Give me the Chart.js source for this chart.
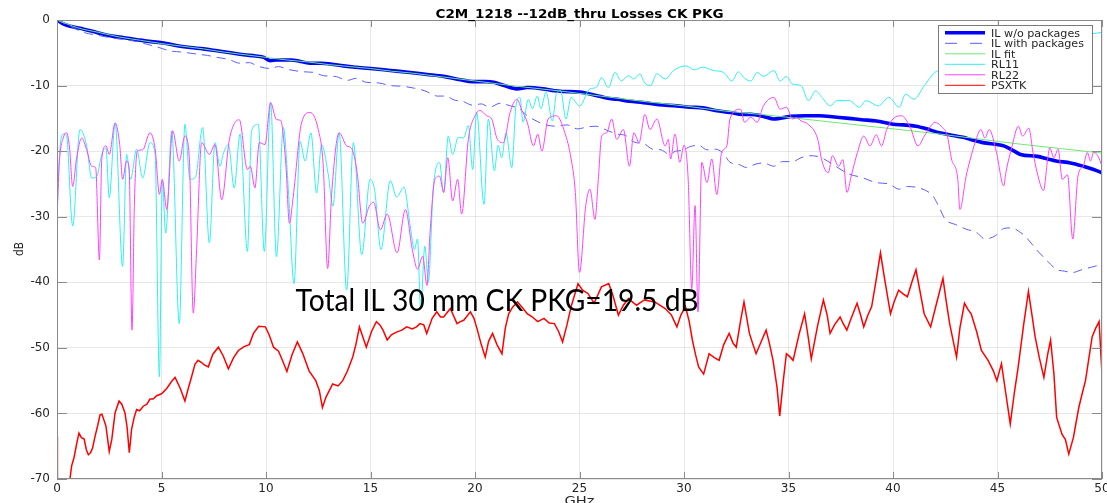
<!DOCTYPE html>
<html>
<head>
<meta charset="utf-8">
<script src="https://cdn.jsdelivr.net/npm/chart.js@4.4.1/dist/chart.umd.min.js"></script>
<style>
  html, body { margin: 0; padding: 0; background: #fff; }
  #c { display: block; }
</style>
</head>
<body>
<canvas id="c" width="1107" height="503"></canvas>
<script>
// ---- Frequency axis / dB axis ----
const xTicks = [0, 5, 10, 15, 20, 25, 30, 35, 40, 45, 50];
const yTicks = [-70, -60, -50, -40, -30, -20, -10, 0];

// ---- IL w/o packages ----
const ilFreq = [0,0.3,0.7,1.28,1.9,2.55,3.2,3.83,4.5,5.1,5.7,6.38,7.0,7.66,8.3,8.93,9.5,9.9,10.2,10.5,10.85,11.2,11.5,12.1,12.6,13.1,13.7,14.3,15.0,15.95,16.9,17.7,18.5,19.3,19.9,20.5,20.9,21.4,22.0,22.5,23.25,23.8,24.2,25.0,25.8,26.3,26.8,27.4,28.05,28.8,29.65,30.3,30.9,31.5,32.2,32.8,33.2,33.8,34.3,35.1,35.8,36.5,37.2,37.9,38.5,39.2,40.0,40.5,41.1,41.6,42.1,42.7,43.35,43.8,44.3,45.3,45.8,46.1,46.9,47.4,47.8,48.5,49.1,49.6,50];
const ilVals = [0,-0.6,-1.0,-1.4,-1.9,-2.4,-2.7,-3.0,-3.3,-3.5,-3.9,-4.2,-4.4,-4.7,-5.0,-5.3,-5.5,-5.7,-6.2,-6.1,-6.1,-6.1,-6.2,-6.6,-6.6,-6.7,-7.0,-7.2,-7.4,-7.7,-8.0,-8.3,-8.6,-9.1,-9.4,-9.4,-9.5,-10.0,-10.5,-10.3,-10.5,-10.8,-10.9,-11.0,-11.5,-11.9,-12.1,-12.4,-12.6,-12.9,-13.1,-13.3,-13.4,-13.8,-14.1,-14.4,-14.4,-14.7,-15.1,-14.7,-14.6,-14.6,-14.8,-15.0,-15.2,-15.4,-15.9,-16.0,-16.2,-16.6,-17.1,-17.5,-17.9,-18.3,-18.7,-19.2,-20.0,-20.5,-20.8,-21.2,-21.5,-21.8,-22.3,-22.8,-23.3];

// ---- IL with packages ----
const ilPkgFreq = [0,0.6,1.28,1.9,2.55,3.2,3.83,4.3,4.78,5.4,6.0,6.7,7.2,7.65,8.2,8.77,9.2,9.57,10.2,10.6,11.0,11.8,12.3,12.76,13.3,13.9,14.3,14.8,15.4,15.95,16.5,17.1,17.6,18.2,18.6,19.0,19.4,19.9,20.3,20.7,21.2,21.7,22.1,22.5,23.0,23.4,23.9,24.4,24.9,25.4,25.8,26.3,26.8,27.2,27.6,28.1,28.5,28.9,29.3,29.6,29.9,30.3,30.7,31.1,31.5,31.9,32.2,32.6,33.0,33.4,33.8,34.3,34.7,35.2,35.6,36.0,36.4,36.7,37.2,37.9,38.5,39.2,39.8,40.3,40.7,41.1,41.5,41.9,42.2,42.5,43.0,43.5,44.0,44.4,44.9,45.3,45.7,46.0,46.3,46.6,47.0,47.4,47.8,48.2,48.6,49.1,49.5,49.9,50];
const ilPkgVals = [0,-0.9,-1.9,-2.3,-2.7,-3.0,-3.3,-3.7,-4.1,-4.7,-4.9,-5.2,-5.4,-5.7,-6.0,-6.6,-6.5,-7.0,-7.4,-7.1,-7.5,-7.9,-8.0,-8.5,-8.6,-9.2,-8.9,-9.5,-9.6,-10.0,-10.1,-10.4,-10.8,-11.6,-11.6,-12.2,-12.4,-13.0,-12.8,-13.3,-12.7,-13.1,-13.5,-14.6,-15.5,-16.0,-16.2,-16.0,-16.6,-16.3,-16.2,-16.8,-17.4,-17.6,-18.6,-18.9,-19.7,-19.8,-20.5,-20.0,-19.9,-19.3,-19.1,-19.8,-19.7,-20.4,-21.7,-22.0,-22.5,-22.0,-21.8,-22.3,-21.6,-21.6,-21.0,-20.7,-20.8,-21.2,-22.2,-23.5,-24.0,-24.8,-25.0,-25.8,-25.4,-25.5,-25.9,-26.8,-28.5,-30.4,-31.2,-31.9,-32.4,-33.4,-32.9,-31.8,-31.7,-32.2,-32.9,-34.0,-35.5,-36.8,-38.0,-38.3,-38.5,-38.0,-37.7,-37.4,-37.4];

// ---- IL fit ----
const fitFreq = [0,1,2,3,4,5,6,7,8,9,10,11,12,13,14,15,16,17,18,19,20,22,24,26,28,30,32,34,36,38,40,42,44,46,48,50];
const fitVals = [0,-1.2,-1.9,-2.6,-3.1,-3.6,-4.0,-4.4,-4.9,-5.3,-5.7,-6.1,-6.4,-6.8,-7.1,-7.4,-7.8,-8.1,-8.5,-8.9,-9.3,-10.1,-10.8,-11.6,-12.4,-13.1,-13.9,-14.5,-15.2,-15.9,-16.6,-17.3,-18.1,-18.9,-19.6,-20.3];

// ---- RL11 ----
const rl11Freq = [0,0.14,0.3,0.45,0.75,1.1,1.42,1.66,1.9,2.14,2.34,2.5,2.78,3.14,3.33,3.52,3.81,4.1,4.45,4.69,4.9,5.04,5.2,5.49,5.85,6.12,6.36,6.62,6.97,7.29,7.56,7.8,7.95,8.2,8.48,8.76,9.11,9.31,9.63,9.92,10.22,10.5,10.83,11.07,11.34,11.63,11.87,12.15,12.42,12.66,12.98,13.2,13.5,13.86,14.18,14.58,14.98,15.2,15.5,15.95,16.25,16.6,16.9,17.1,17.25,17.4,17.6,17.77,18.0,18.3,18.5,18.72,18.93,19.2,19.45,19.68,19.89,20.08,20.43,20.64,20.93,21.1,21.28,21.48,21.76,21.96,22.15,22.3,22.55,22.75,22.98,23.15,23.4,23.7,23.9,24.1,24.35,24.6,25.0,25.5,25.8,26.06,26.38,26.7,27.0,27.34,27.6,27.9,28.1,28.4,28.7,29.1,29.5,30.1,30.5,30.9,31.4,31.9,32.3,32.6,32.9,33.2,33.5,33.8,34.3,34.6,34.9,35.2,35.6,35.95,36.3,36.6,37.0,37.3,37.9,38.4,38.7,39.3,39.8,40.3,40.6,41.0,41.5,42.0,42.3,43,44,45,46,47,48,49,50];
const rl11Vals = [-29.5,-19.7,-17.4,-17.6,-31.4,-16.7,-19.2,-24.1,-23.9,-20.5,-19.5,-27.1,-15.7,-37.6,-20.5,-24.3,-19.7,-24.1,-18.7,-20.3,-54.4,-24.6,-32.5,-16.9,-46.3,-15.9,-24.3,-24.0,-16.4,-34.0,-18.7,-22.3,-20.5,-19.0,-25.6,-17.4,-35.3,-16.9,-15.9,-35.3,-12.6,-36.1,-16.4,-25.9,-40.2,-18.5,-21.5,-17.2,-26.4,-19.0,-23.6,-28.4,-17.2,-41.2,-18.7,-35.8,-24.3,-26.0,-35.0,-24.5,-27.0,-25.5,-31.4,-35.0,-33.4,-44.0,-34.5,-40.0,-25.8,-21.7,-26.3,-17.7,-20.5,-17.9,-18.0,-16.1,-22.8,-14.1,-28.1,-15.1,-23.0,-19.1,-21.0,-17.2,-22.5,-13.1,-11.8,-15.6,-12.1,-13.5,-11.6,-13.5,-11.0,-15.4,-11.2,-10.8,-15.1,-11.8,-13.1,-10.5,-10.3,-8.8,-10.3,-8.0,-9.3,-8.5,-9.0,-8.2,-9.5,-10.0,-8.2,-9.0,-7.7,-7.0,-7.6,-7.2,-7.7,-8.0,-9.3,-7.9,-8.9,-9.3,-8.0,-8.6,-7.7,-9.3,-8.6,-9.8,-10.0,-12.3,-10.8,-11.8,-13.1,-12.3,-12.3,-13.3,-12.3,-13.1,-11.8,-13.3,-11.3,-12.1,-10.0,-8.0,-7.6,-6.5,-5.5,-4.5,-3.8,-3.2,-2.7,-2.3,-1.9];

// ---- RL22 ----
const rl22Freq = [0,0.1,0.33,0.46,0.6,0.75,0.94,1.18,1.42,1.66,1.85,2.03,2.14,2.34,2.5,2.78,3.0,3.14,3.33,3.45,3.59,3.7,3.84,4.1,4.45,4.7,4.9,5.04,5.25,5.53,5.85,6.12,6.33,6.52,6.68,6.92,7.29,7.56,7.88,8.25,8.72,9.11,9.25,9.47,9.68,9.95,10.22,10.5,10.7,10.95,11.12,11.3,11.7,12.1,12.5,12.74,12.95,13.14,13.5,13.86,14.1,14.35,14.63,14.94,15.15,15.47,15.8,16.27,16.67,17.0,17.25,17.5,17.7,17.85,18.08,18.3,18.5,18.7,18.93,19.17,19.36,19.68,20.0,20.24,20.55,20.8,21.07,21.36,21.68,22.0,22.25,22.5,22.8,23.0,23.2,23.5,23.9,24.3,24.6,24.8,25.0,25.3,25.5,25.74,25.9,26.06,26.3,26.54,26.78,27.1,27.39,27.6,27.85,28.13,28.37,28.7,29.1,29.25,29.36,29.57,29.8,30.0,30.2,30.37,30.53,30.67,30.85,31.1,31.33,31.57,31.8,32.05,32.2,32.7,32.9,33.2,33.5,33.8,34.3,34.6,34.9,35.2,35.4,35.6,35.9,36.4,36.6,36.9,37.1,37.4,37.6,37.8,38.0,38.3,38.6,38.9,39.2,39.45,39.7,40.0,40.4,40.8,41.2,41.5,41.8,42.0,42.3,42.6,42.8,43.1,43.2,43.5,43.7,43.95,44.2,44.4,44.6,44.95,45.3,45.4,45.7,46.0,46.2,46.5,46.7,46.9,47.2,47.4,47.5,47.7,47.9,48.1,48.35,48.6,48.85,49.1,49.3,49.45,49.6,49.8,50];
const rl22Vals = [-30.5,-22.3,-17.7,-17.2,-19.5,-25.4,-21.0,-18.0,-19.8,-22.3,-22.5,-36.6,-21.3,-19.2,-20.5,-15.7,-19.0,-24.3,-21.5,-22.5,-47.3,-28.4,-20.0,-19.8,-17.2,-19.8,-26.6,-24.3,-28.9,-16.9,-21.5,-17.7,-21.0,-44.7,-35.0,-18.7,-20.5,-19.0,-27.4,-18.2,-15.2,-22.8,-22.3,-25.6,-18.7,-19.0,-12.6,-15.2,-15.3,-22.0,-31.0,-27.0,-15.7,-14.1,-16.7,-22.3,-37.9,-26.6,-17.2,-19.2,-19.6,-23.0,-31.0,-28.4,-27.8,-32.0,-29.6,-35.5,-28.9,-35.0,-38.0,-36.0,-40.5,-32.4,-24.3,-23.8,-26.3,-21.0,-27.6,-24.3,-29.6,-18.2,-14.6,-13.8,-14.6,-15.1,-18.2,-18.7,-14.1,-12.1,-13.8,-15.6,-19.2,-17.4,-20.0,-15.1,-14.6,-17.2,-21.2,-26.3,-38.5,-28.3,-25.8,-30.4,-24.3,-17.7,-17.2,-15.1,-18.2,-16.7,-22.3,-17.2,-18.7,-14.4,-16.7,-15.1,-19.2,-18.2,-21.2,-17.4,-21.7,-19.1,-24.3,-41.0,-28.3,-44.5,-21.7,-24.8,-21.2,-26.6,-20.2,-19.2,-15.1,-13.6,-15.6,-14.8,-15.6,-13.1,-11.8,-13.6,-13.3,-15.1,-14.9,-15.4,-15.8,-18.2,-21.5,-23.3,-20.7,-22.3,-21.3,-26.3,-23.8,-20.2,-17.7,-19.2,-17.5,-19.2,-16.7,-15.1,-14.6,-16.2,-19.2,-17.7,-16.2,-15.6,-16.2,-17.7,-21.2,-24.3,-28.9,-23.8,-21.2,-18.5,-16.7,-18.0,-16.7,-20.2,-25.3,-23.3,-19.2,-16.2,-17.7,-16.5,-20.2,-23.3,-26.0,-21.2,-19.5,-21.0,-19.7,-24.3,-23.6,-33.4,-23.8,-22.3,-20.2,-21.5,-20.2,-20.7,-22.3];

// ---- PSXTK ----
const psxFreq = [0,0.02,0.6,0.62,0.7,0.81,0.95,1.05,1.17,1.3,1.4,1.5,1.6,1.7,1.82,1.95,2.06,2.15,2.34,2.5,2.62,2.78,2.97,3.1,3.25,3.35,3.46,3.57,3.7,3.81,3.95,4.13,4.3,4.45,4.6,4.77,5.0,5.25,5.49,5.65,5.9,6.12,6.28,6.44,6.6,6.75,6.9,7.05,7.24,7.45,7.72,7.95,8.2,8.45,8.68,8.95,9.2,9.4,9.65,9.97,10.15,10.36,10.6,10.8,11.0,11.25,11.5,11.75,12.06,12.38,12.55,12.7,12.87,13.19,13.45,13.67,13.9,14.15,14.3,14.47,14.65,14.8,15.05,15.28,15.45,15.6,15.8,16.0,16.24,16.5,16.73,17.0,17.2,17.37,17.55,17.69,17.95,18.17,18.35,18.5,18.82,19.14,19.3,19.46,19.78,19.95,20.1,20.3,20.49,20.65,20.84,21.05,21.29,21.45,21.61,21.8,22.03,22.25,22.5,22.75,23.0,23.3,23.55,23.8,24.0,24.19,24.4,24.6,24.93,25.15,25.4,25.7,26.05,26.4,26.6,26.86,27.1,27.34,27.73,28.1,28.6,29.1,29.4,29.66,29.85,30.07,30.25,30.4,30.55,30.7,30.94,31.2,31.45,31.68,31.9,32.16,32.35,32.5,32.7,32.87,33.13,33.3,33.45,33.7,33.93,34.1,34.26,34.45,34.58,34.75,34.9,35.05,35.22,35.5,35.77,35.95,36.09,36.4,36.67,36.85,36.99,37.2,37.47,37.6,37.79,38.0,38.28,38.45,38.6,38.8,38.98,39.2,39.4,39.6,39.88,40.05,40.27,40.5,40.69,40.9,41.1,41.3,41.49,41.8,42.1,42.39,42.55,42.71,43.04,43.2,43.42,43.6,43.74,44.0,44.23,44.55,44.8,44.97,45.19,45.4,45.61,45.8,45.99,46.25,46.48,46.65,46.8,47.0,47.22,47.4,47.54,47.7,47.83,48.09,48.25,48.41,48.63,48.89,49.05,49.21,49.4,49.53,49.7,49.86,50.0];
const psxVals = [-63.5,-72,-72,-70,-68.0,-66.8,-64.5,-63.0,-63.7,-63.9,-65.5,-66.3,-66.0,-65.3,-63.5,-61.8,-60.2,-60.1,-61.9,-65.8,-64.0,-59.9,-58.1,-58.6,-59.9,-62.0,-66.0,-62.4,-60.5,-59.4,-59.6,-58.9,-58.6,-57.8,-57.8,-57.3,-57.0,-56.2,-55.1,-54.5,-56.2,-58.1,-56.2,-54.4,-52.5,-51.9,-52.2,-52.6,-52.9,-51.0,-49.9,-51.2,-53.2,-51.5,-50.4,-49.8,-49.5,-47.8,-46.7,-46.8,-48.0,-49.9,-50.5,-52.0,-53.6,-51.0,-49.1,-50.8,-53.5,-55.0,-56.5,-59.1,-57.5,-55.5,-55.8,-55.0,-53.5,-51.4,-49.5,-46.8,-48.5,-49.9,-47.5,-46.0,-46.5,-47.3,-48.8,-48.0,-47.6,-47.3,-46.8,-47.1,-46.8,-46.3,-46.5,-47.8,-45.5,-44.5,-45.3,-45.3,-44.0,-46.3,-46.0,-45.8,-44.5,-45.5,-47.1,-49.5,-51.4,-49.0,-47.8,-49.5,-50.9,-47.0,-44.8,-43.8,-43.0,-43.8,-44.8,-45.3,-46.0,-45.5,-46.2,-46.3,-47.5,-49.1,-46.5,-43.7,-40.2,-41.2,-41.7,-43.2,-40.7,-40.2,-42.0,-45.0,-43.5,-42.5,-43.5,-42.7,-43.0,-44.0,-45.0,-46.8,-45.0,-43.7,-46.0,-48.8,-51.0,-52.9,-54.0,-50.9,-51.5,-51.9,-49.5,-47.8,-49.3,-49.9,-46.0,-43.0,-47.8,-49.5,-50.9,-49.0,-47.3,-49.5,-51.9,-56.0,-60.4,-55.0,-50.9,-51.3,-51.9,-48.0,-44.8,-48.5,-51.7,-46.5,-42.7,-45.0,-47.8,-46.5,-45.3,-46.2,-47.3,-45.5,-43.2,-45.0,-46.8,-45.0,-43.7,-39.5,-35.5,-39.5,-44.8,-43.0,-41.2,-41.8,-42.2,-40.0,-38.1,-41.5,-44.8,-46.8,-43.0,-39.4,-43.0,-46.3,-51.4,-47.0,-43.2,-44.2,-44.8,-47.5,-50.4,-51.9,-53.5,-55.0,-52.4,-57.0,-61.6,-57.0,-52.9,-46.5,-41.4,-45.0,-48.3,-51.5,-54.5,-51.0,-48.8,-54.0,-60.6,-63.2,-64.0,-66.2,-63.7,-59.1,-57.0,-55.0,-51.0,-48.3,-47.0,-46.0,-54.0];

// ---- Legend / annotation text ----
const titleText = 'C2M_1218 --12dB_thru Losses CK PKG';
const noteText = 'Total IL 30 mm CK PKG=19.5 dB';
const seriesNames = ['IL w/o packages', 'IL with packages', 'IL fit', 'RL11', 'RL22', 'PSXTK'];

const pts = (fx, fy) => fx.map((f, i) => ({ x: f, y: fy[i] }));

const seriesStyle = [
  { color: '#0000ff', width: 3.6, dash: [] },
  { color: '#5c5cff', width: 1, dash: [9, 6] },
  { color: '#6ee86e', width: 1, dash: [] },
  { color: '#2ef0f0', width: 1, dash: [] },
  { color: '#ff40ff', width: 1, dash: [] },
  { color: '#ff0000', width: 1.5, dash: [] }
];

const seriesData = [
  pts(ilFreq, ilVals),
  pts(ilPkgFreq, ilPkgVals),
  pts(fitFreq, fitVals),
  pts(rl11Freq, rl11Vals),
  pts(rl22Freq, rl22Vals),
  pts(psxFreq, psxVals)
];

const datasets = seriesNames.map((name, i) => ({
  label: name,
  data: seriesData[i],
  borderColor: seriesStyle[i].color,
  borderWidth: seriesStyle[i].width,
  borderDash: seriesStyle[i].dash,
  pointRadius: 0,
  fill: false,
  cubicInterpolationMode: i === 5 ? 'default' : 'monotone',
  tension: 0,
  order: 6 - i
}));

const TEXT = '#262626';

function fitText(c, text, x, y, font, width, align) {
  c.save();
  c.font = font;
  const s = width / c.measureText(text).width;
  c.translate(x, y);
  c.scale(s, 1);
  c.textAlign = align;
  c.textBaseline = 'alphabetic';
  c.fillText(text, 0, 0);
  c.restore();
}

// Axes box with inward ticks, title, axis names, legend and note
const decorations = {
  id: 'decorations',
  afterDraw(chart) {
    const c = chart.ctx;
    const a = chart.chartArea;
    const xs = chart.scales.x, ys = chart.scales.y;
    c.save();
    c.strokeStyle = '#8a8a8a';
    c.lineWidth = 1;
    c.strokeRect(Math.round(a.left) + 0.5, Math.round(a.top) + 0.5,
                 Math.round(a.right - a.left) - 1, Math.round(a.bottom - a.top) - 1);
    c.beginPath();
    xTicks.forEach(v => {
      const px = Math.round(xs.getPixelForValue(v)) + 0.5;
      c.moveTo(px, a.bottom); c.lineTo(px, a.bottom - 7);
      c.moveTo(px, a.top); c.lineTo(px, a.top + 7);
    });
    yTicks.forEach(v => {
      const py = Math.round(ys.getPixelForValue(v)) + 0.5;
      c.moveTo(a.left, py); c.lineTo(a.left + 10, py);
      c.moveTo(a.right, py); c.lineTo(a.right - 10, py);
    });
    c.stroke();

    // title
    c.fillStyle = '#000';
    fitText(c, titleText, (a.left + a.right) / 2, 18, 'bold 12px "DejaVu Sans"', 288, 'center');

    // axis names
    c.fillStyle = TEXT;
    fitText(c, 'GHz', (a.left + a.right) / 2, 505, '12px "DejaVu Sans"', 30, 'center');
    c.save();
    c.translate(23, 249);
    c.rotate(-Math.PI / 2);
    fitText(c, 'dB', 0, 0, '12px "DejaVu Sans"', 14, 'center');
    c.restore();

    // legend
    const lx = 938.5, ly = 25.5, lw = 154, lh = 68;
    c.fillStyle = '#fff';
    c.fillRect(lx, ly, lw, lh);
    c.strokeStyle = '#7a7a7a';
    c.lineWidth = 1;
    c.strokeRect(lx, ly, lw, lh);
    c.font = '10.5px "DejaVu Sans"';
    const sc = 93 / c.measureText(seriesNames[1]).width;
    seriesNames.forEach((name, i) => {
      const y = 32.8 + 10.5 * i;
      const st = seriesStyle[i];
      c.save();
      c.strokeStyle = st.color;
      c.lineWidth = i === 5 ? 1 : st.width;
      c.setLineDash(i === 1 ? [12, 13] : []);
      c.beginPath();
      c.moveTo(945, y); c.lineTo(985, y);
      c.stroke();
      c.restore();
      c.save();
      c.fillStyle = TEXT;
      c.font = '10.5px "DejaVu Sans"';
      c.translate(991, y + 3.8);
      c.scale(sc, 1);
      c.textAlign = 'left';
      c.fillText(name, 0, 0);
      c.restore();
    });

    // note
    c.fillStyle = '#000';
    fitText(c, noteText, 295.5, 311, '31px Lato', 403, 'left');
    c.restore();
  }
};

new Chart(document.getElementById('c'), {
  type: 'line',
  data: { datasets },
  options: {
    responsive: false,
    animation: false,
    events: [],
    layout: { padding: { top: 20, right: 5, left: 0, bottom: 0 } },
    plugins: { legend: { display: false }, tooltip: { enabled: false }, title: { display: false } },
    scales: {
      x: {
        type: 'linear', min: 0, max: 50,
        afterBuildTicks: s => { s.ticks = xTicks.map(v => ({ value: v })); },
        ticks: { color: TEXT, font: { family: 'DejaVu Sans', size: 12 }, padding: 3, maxRotation: 0, autoSkip: false },
        grid: { color: 'rgba(0,0,0,0.09)', drawTicks: false },
        border: { display: false },
        afterFit: s => { s.height = 24; s.paddingLeft = 0; s.paddingRight = 0; }
      },
      y: {
        type: 'linear', min: -70, max: 0,
        afterBuildTicks: s => { s.ticks = yTicks.map(v => ({ value: v })); },
        ticks: { color: TEXT, font: { family: 'DejaVu Sans', size: 12 }, padding: 7 },
        grid: { color: 'rgba(0,0,0,0.09)', drawTicks: false },
        border: { display: false },
        afterFit: s => { s.width = 57; s.paddingTop = 0; s.paddingBottom = 0; }
      }
    }
  },
  plugins: [decorations]
});
</script>
</body>
</html>
